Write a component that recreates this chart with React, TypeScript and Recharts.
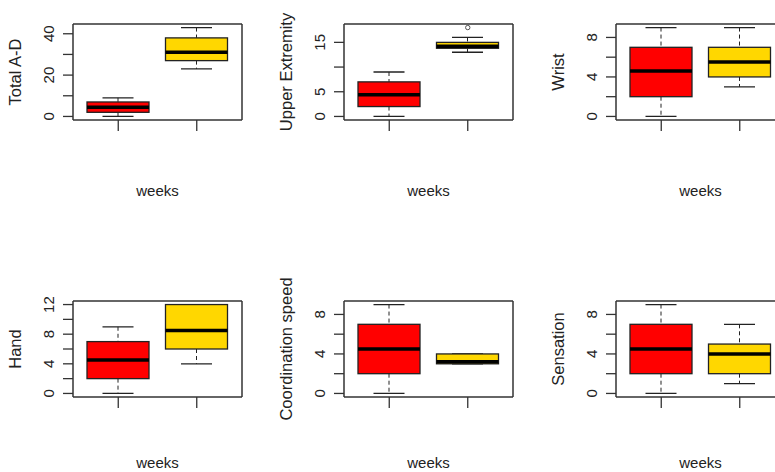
import { ComposedChart, Bar, Scatter, XAxis, YAxis, CartesianGrid } from 'recharts'

const FONT = '"Liberation Sans", Arial, sans-serif'
const INK = '#222'

const weeks = ['1', '2']
const boxColors = ['#FF0000', '#FFD700']

// [lower whisker, Q1, median, Q3, upper whisker] per week
const totalAD = [[0, 2, 4.5, 7, 9], [23, 27, 31, 38, 43]]
const upperExtremity = [[0, 2, 4.4, 7, 9], [13, 13.8, 14.2, 15, 16]]
const upperExtremityOutliers = [null, 18]
const wrist = [[0, 2, 4.6, 7, 9], [3, 4, 5.5, 7, 9]]
const hand = [[0, 2, 4.5, 7, 9], [4, 6, 8.5, 12, 12]]
const coordinationSpeed = [[0, 2, 4.5, 7, 9], [3, 3, 3.2, 4, 4]]
const sensation = [[0, 2, 4.5, 7, 9], [1, 2, 4, 5, 7]]

const totalADTicks = [0, 10, 20, 30, 40]
const totalADLabels = [0, 20, 40]
const upperTicks = [0, 5, 10, 15]
const upperLabels = [0, 5, 15]
const smallTicks = [0, 2, 4, 6, 8]
const smallLabels = [0, 4, 8]
const handTicks = [0, 2, 4, 6, 8, 10, 12]
const handLabels = [0, 4, 8, 12]

function BoxShape(props: any) {
  const { x, y, width, height } = props
  const d = props.payload ?? props
  const top = Math.min(y, y + height)
  const h = Math.abs(height)
  const span = d.hi - d.lo
  const toY = (v: number) => (span === 0 ? top : top + ((d.hi - v) / span) * h)
  const cx = x + width / 2
  const cap = width / 4
  return (
    <g>
      <line x1={cx} x2={cx} y1={toY(d.hi)} y2={toY(d.q3)} stroke={INK} strokeDasharray="4 3" />
      <line x1={cx} x2={cx} y1={toY(d.q1)} y2={toY(d.lo)} stroke={INK} strokeDasharray="4 3" />
      <line x1={cx - cap} x2={cx + cap} y1={toY(d.hi)} y2={toY(d.hi)} stroke={INK} strokeWidth={1.3} />
      <line x1={cx - cap} x2={cx + cap} y1={toY(d.lo)} y2={toY(d.lo)} stroke={INK} strokeWidth={1.3} />
      <rect x={x} y={toY(d.q3)} width={width} height={toY(d.q1) - toY(d.q3)} fill={d.fill} stroke={INK} strokeWidth={1.3} />
      <line x1={x} x2={x + width} y1={toY(d.med)} y2={toY(d.med)} stroke="#000" strokeWidth={3.5} />
    </g>
  )
}

function OutlierDot(props: any) {
  const { cx, cy } = props
  const d = props.payload ?? {}
  if (d.out == null || !Number.isFinite(cy)) return <g />
  return <circle cx={cx} cy={cy} r={2.2} fill="none" stroke="#555" strokeWidth={1} />
}

function EmptyTick() {
  return <g />
}

function RotatedTick(props: any) {
  const { x, y, payload, labels } = props
  if (!labels.includes(payload.value)) return <g />
  return (
    <text
      transform={`translate(${x - 15},${y}) rotate(-90)`}
      textAnchor="middle"
      dominantBaseline="central"
      fontSize={15}
      fontFamily={FONT}
      fill={INK}
    >
      {payload.value}
    </text>
  )
}

function YTitle(props: any) {
  const { viewBox, value } = props
  const cx = viewBox.x + 15
  const cy = viewBox.y + viewBox.height / 2
  return (
    <text
      transform={`translate(${cx},${cy}) rotate(-90)`}
      textAnchor="middle"
      dominantBaseline="central"
      fontSize={16.5}
      fontFamily={FONT}
      fill={INK}
    >
      {value}
    </text>
  )
}

interface PanelProps {
  title: string
  stats: number[][]
  outliers?: (number | null)[]
  ticks: number[]
  labels: number[]
  left: number
  top: number
  labelOffset?: number
}

function BoxPanel({ title, stats, outliers, ticks, labels, left, top, labelOffset = 4 }: PanelProps) {
  const data = weeks.map((w, i) => ({
    week: w,
    lo: stats[i][0],
    q1: stats[i][1],
    med: stats[i][2],
    q3: stats[i][3],
    hi: stats[i][4],
    out: outliers ? outliers[i] : null,
    fill: boxColors[i],
  }))
  const all = stats.flat().concat((outliers ?? []).filter((v): v is number => v != null))
  const min = Math.min(...all)
  const max = Math.max(...all)
  const pad = (max - min) * 0.04

  return (
    <div style={{ position: 'absolute', left, top }}>
      <ComposedChart width={271} height={200} data={data} margin={{ top: 24, right: 29, bottom: 0, left: 0 }}>
        <CartesianGrid
          stroke="#333"
          strokeWidth={1.5}
          horizontalCoordinatesGenerator={({ offset }: any) => [offset.top, offset.top + offset.height]}
          verticalCoordinatesGenerator={({ offset }: any) => [offset.left, offset.left + offset.width]}
        />
        <XAxis
          dataKey="week"
          padding={{ left: 6, right: 6 }}
          height={80}
          tickSize={11}
          axisLine={false}
          tickLine={{ stroke: '#333', strokeWidth: 1.3 }}
          tick={<EmptyTick />}
          label={{ value: 'weeks', position: 'insideBottom', offset: labelOffset, fontSize: 15, fontFamily: FONT, fill: INK }}
        />
        <YAxis
          type="number"
          width={73}
          domain={[min - pad, max + pad]}
          ticks={ticks}
          interval={0}
          allowDataOverflow
          tickSize={10}
          tickMargin={0}
          axisLine={false}
          tickLine={{ stroke: '#333', strokeWidth: 1.3 }}
          tick={<RotatedTick labels={labels} />}
          label={<YTitle value={title} />}
        />
        <Bar dataKey={(d: any) => [d.lo, d.hi]} barSize={62} shape={BoxShape} isAnimationActive={false} />
        {outliers && <Scatter dataKey="out" shape={OutlierDot} isAnimationActive={false} />}
      </ComposedChart>
    </div>
  )
}

export default function App() {
  return (
    <div
      style={{
        position: 'absolute',
        left: 0,
        top: 0,
        width: 775,
        height: 472,
        overflow: 'hidden',
        background: '#fff',
        fontFamily: FONT,
      }}
    >
      <BoxPanel title="Total A-D" stats={totalAD} ticks={totalADTicks} labels={totalADLabels} left={0} top={0} />
      <BoxPanel
        title="Upper Extremity"
        stats={upperExtremity}
        outliers={upperExtremityOutliers}
        ticks={upperTicks}
        labels={upperLabels}
        left={271}
        top={0}
      />
      <BoxPanel title="Wrist" stats={wrist} ticks={smallTicks} labels={smallLabels} left={543} top={0} />
      <BoxPanel title="Hand" stats={hand} ticks={handTicks} labels={handLabels} left={0} top={277} labelOffset={9} />
      <BoxPanel
        title="Coordination speed"
        stats={coordinationSpeed}
        ticks={smallTicks}
        labels={smallLabels}
        left={271}
        top={277}
        labelOffset={9}
      />
      <BoxPanel
        title="Sensation"
        stats={sensation}
        ticks={smallTicks}
        labels={smallLabels}
        left={543}
        top={277}
        labelOffset={9}
      />
    </div>
  )
}
